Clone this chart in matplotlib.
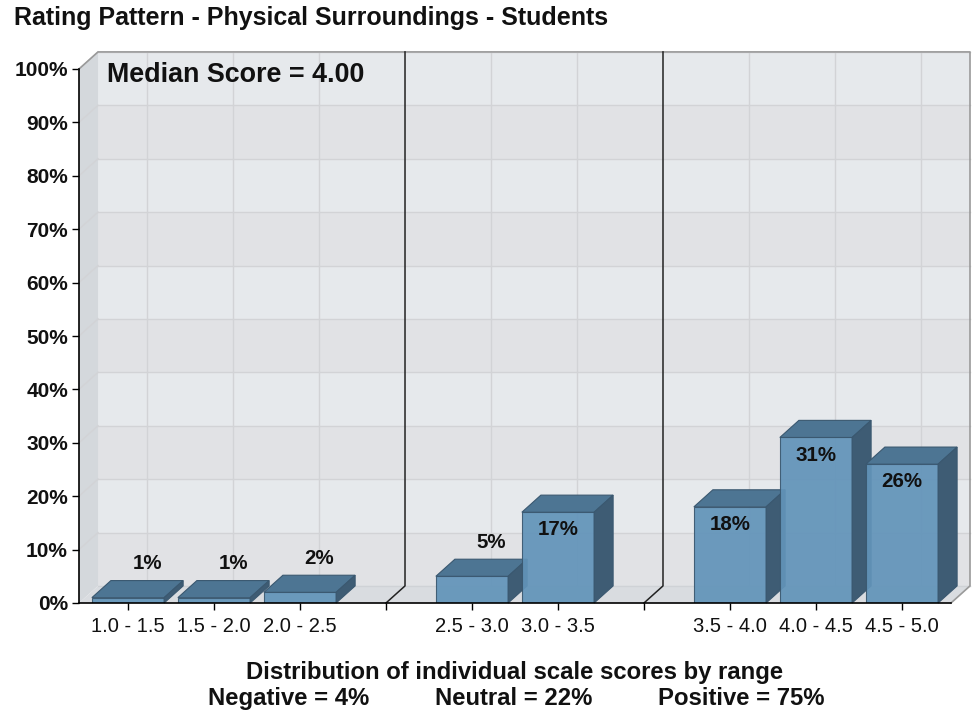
import matplotlib
matplotlib.use("Agg")
import matplotlib.pyplot as plt
from matplotlib.patches import Polygon, Rectangle
from matplotlib import font_manager

# data
categories = ["1.0 - 1.5", "1.5 - 2.0", "2.0 - 2.5",
              "2.5 - 3.0", "3.0 - 3.5",
              "3.5 - 4.0", "4.0 - 4.5", "4.5 - 5.0"]
values = [1, 1, 2, 5, 17, 18, 31, 26]
groups = [0, 0, 0, 1, 1, 2, 2, 2]
summaryNames = ["Negative", "Neutral", "Positive"]
summaryValues = [4, 22, 75]
medianScore = 4.00
title = "Rating Pattern - Physical Surroundings - Students"
xTitle = "Distribution of individual scale scores by range"

# colours
frontColor = "#6294b9"
topColor = "#4d7593"
sideColor = "#3e5c74"
edgeColor = "#3a5870"
bandLight = "#e6e9ec"
bandDark = "#e1e2e5"
gridColor = "#d2d3d6"
floorColor = "#d9dce0"
wallColor = "#d4d8dc"

try:
    font_manager.findfont("Liberation Sans Narrow", fallback_to_default=False)
    narrow = ["Liberation Sans Narrow", "DejaVu Sans"]
except Exception:
    narrow = ["Liberation Sans", "DejaVu Sans"]
plt.rcParams["font.family"] = ["Liberation Sans", "DejaVu Sans"]

positions = [i + g for i, g in enumerate(groups)]
separators = []
for g in sorted(set(groups))[:-1]:
    separators.append(max(p for p, gg in zip(positions, groups) if gg == g) + 1)

x0, x1 = -0.57, positions[-1] + 0.57
dx, dy = 0.221, 3.2
halfW = 0.42

fig = plt.figure(figsize=(9.72, 7.14), dpi=100)
ax = fig.add_axes([79 / 972, 111 / 714, 872 / 972, 534 / 714])
ax.set_xlim(x0, x1)
ax.set_ylim(0, 100)
ax.patch.set_visible(False)
for s in ["top", "right"]:
    ax.spines[s].set_visible(False)
for s in ["left", "bottom"]:
    ax.spines[s].set_color("black")
    ax.spines[s].set_linewidth(1.2)
    ax.spines[s].set_zorder(20)

# back wall bands
for k in range(10):
    c = bandDark if k % 2 == 0 else bandLight
    ax.add_patch(Rectangle((x0 + dx, k * 10 + dy), x1 - x0, 10, fc=c, ec="none",
                           zorder=0, clip_on=False))
# left wall and floor
ax.add_patch(Polygon([(x0, 0), (x0 + dx, dy), (x0 + dx, 100 + dy), (x0, 100)],
                     fc=wallColor, ec="none", zorder=0, clip_on=False))
ax.add_patch(Polygon([(x0, 0), (x1, 0), (x1 + dx, dy), (x0 + dx, dy)],
                     fc=floorColor, ec="none", zorder=0, clip_on=False))

# grid lines
for k in range(1, 11):
    y = k * 10
    ax.plot([x0 + dx, x1 + dx], [y + dy, y + dy], color=gridColor, lw=1,
            zorder=1, clip_on=False)
    ax.plot([x0, x0 + dx], [y, y + dy], color=gridColor, lw=1, zorder=1, clip_on=False)
for p in positions:
    ax.plot([p + dx, p + dx], [dy, 100 + dy], color=gridColor, lw=1, zorder=1,
            clip_on=False)
ax.plot([x0 + dx, x1 + dx], [dy, dy], color="#cfd2d6", lw=1, zorder=1, clip_on=False)

# outer border of the box
ax.plot([x0, x0 + dx, x1 + dx, x1 + dx, x1], [100, 100 + dy, 100 + dy, dy, 0],
        color="#9a9a9a", lw=1.2, zorder=2, clip_on=False)

# separators between negative / neutral / positive
for s in separators:
    ax.plot([s, s + dx, s + dx], [0, dy, 100 + dy], color="#222222", lw=1.1,
            zorder=2, clip_on=False)

# bars
for i, (p, v) in enumerate(zip(positions, values)):
    z = 5 + i
    ax.add_patch(Rectangle((p - halfW, 0), 2 * halfW, v, fc=frontColor, ec=edgeColor,
                           lw=0.8, alpha=0.93, zorder=z))
    ax.add_patch(Polygon([(p - halfW, v), (p + halfW, v), (p + halfW + dx, v + dy),
                          (p - halfW + dx, v + dy)], fc=topColor, ec=edgeColor,
                         lw=0.8, zorder=z, clip_on=False))
    ax.add_patch(Polygon([(p + halfW, 0), (p + halfW + dx, dy), (p + halfW + dx, v + dy),
                          (p + halfW, v)], fc=sideColor, ec=edgeColor, lw=0.8,
                         zorder=z, clip_on=False))
    if v > 10:
        ax.text(p, v - 3.3, f"{v}%", ha="center", va="center", fontsize=14.8,
                fontweight="bold", color="#111111", zorder=30)
    else:
        ax.text(p + dx, v + 6.4, f"{v}%", ha="center", va="center", fontsize=14.8,
                fontweight="bold", color="#111111", zorder=30)

# ticks
ax.set_yticks(range(0, 101, 10))
ax.set_yticklabels([f"{t}%" for t in range(0, 101, 10)], fontsize=15,
                   fontweight="bold", color="#111111")
ax.set_xticks(positions + separators)
ax.set_xticklabels(categories + [""] * len(separators), fontsize=14.5, color="#111111")
ax.tick_params(axis="both", direction="out", length=5, width=1, color="black")
ax.tick_params(axis="y", pad=3)
ax.tick_params(axis="x", pad=5)

# texts
fig.text(14 / 972, 1 - 18 / 714, title, ha="left", va="center", fontsize=18,
         fontweight="bold", color="#111111")
ax.text(x0 + dx + 0.1, 100 + dy - 1.8, f"Median Score = {medianScore:.2f}", ha="left",
        va="top", fontsize=19.4, fontweight="bold", color="#111111", zorder=30)
fig.text(515 / 972, 1 - 679 / 714, xTitle, ha="center", va="baseline", fontsize=17.2,
         family=narrow, fontweight="bold", color="#111111")
summaryX = [208, 435, 658]
for sx, name, val in zip(summaryX, summaryNames, summaryValues):
    fig.text(sx / 972, 1 - 705 / 714, f"{name} = {val}%", ha="left", va="baseline",
             fontsize=17.2, family=narrow, fontweight="bold", color="#111111")

fig.savefig("out.png", dpi=100)
